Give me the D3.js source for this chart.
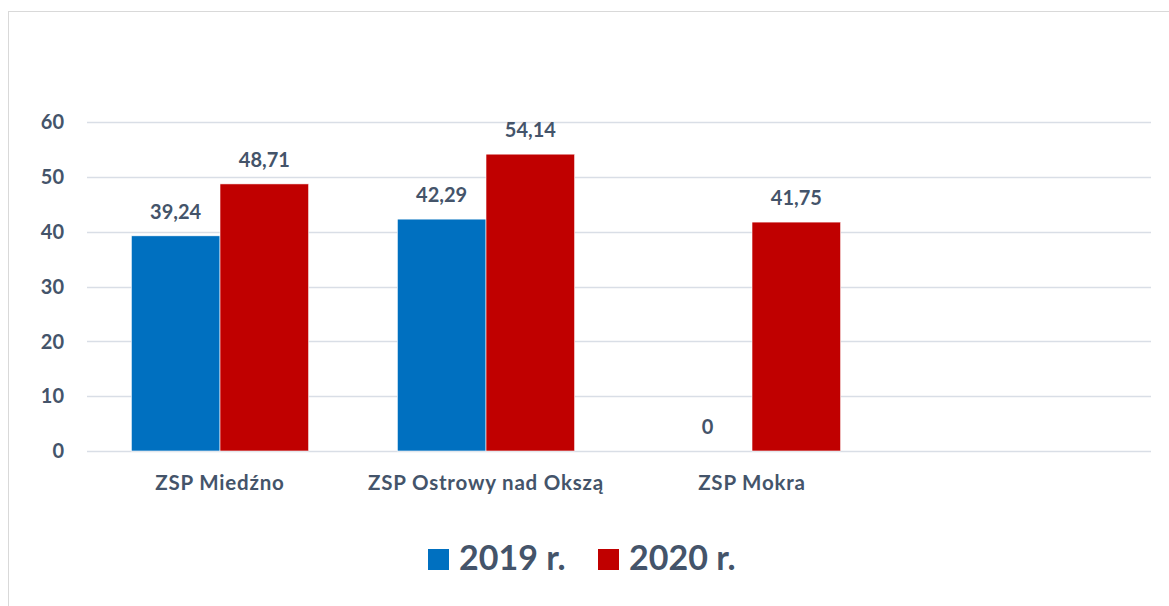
<!DOCTYPE html>
<html>
<head>
<meta charset="utf-8">
<script src="https://cdn.jsdelivr.net/npm/d3@7"></script>
<style>
    body { margin: 0; background: #fff; }
    svg text { font-family: Lato, "Open Sans", sans-serif; font-weight: bold; fill: #44546A; }
</style>
</head>
<body>
<svg class="chart" width="1169" height="606"></svg>
<script>
var categories = ["ZSP Miedźno", "ZSP Ostrowy nad Okszą", "ZSP Mokra", ""];
var seriesNames = ["2019 r.", "2020 r."];
var values2019 = [39.24, 42.29, 0, null];
var values2020 = [48.71, 54.14, 41.75, null];
var yTicks = [0, 10, 20, 30, 40, 50, 60];
var colors = ["#0070C0", "#C00000"];

(function () {
    var svg = d3.select(".chart");

    // outer chart border (right and bottom run off the picture)
    svg.append("rect")
        .attr("x", 8.5)
        .attr("y", 11.5)
        .attr("width", 1300)
        .attr("height", 800)
        .attr("fill", "none")
        .attr("stroke", "#D9D9D9");

    var x0 = d3.scaleBand()
        .domain(categories)
        .range([87, 1151]);

    var x1 = d3.scaleBand()
        .domain(seriesNames)
        .range([0, x0.bandwidth()])
        .paddingOuter(0.5);

    var y = d3.scaleLinear()
        .domain([0, 60])
        .range([451, 122]);

    // gridlines
    svg.append("g")
        .selectAll("line")
        .data(yTicks)
        .enter()
        .append("line")
        .attr("x1", 87)
        .attr("x2", 1151)
        .attr("y1", function (d) { return Math.round(y(d)) + 0.5; })
        .attr("y2", function (d) { return Math.round(y(d)) + 0.5; })
        .attr("stroke", "#D9DEE6")
        .attr("stroke-width", 1.5);

    // y axis labels
    svg.append("g")
        .selectAll("text")
        .data(yTicks)
        .enter()
        .append("text")
        .attr("x", 64)
        .attr("y", function (d) { return y(d); })
        .attr("dy", "0.36em")
        .attr("text-anchor", "end")
        .style("font-size", "20px")
        .text(function (d) { return d; });

    var rows = categories.map(function (c, i) {
        return { cat: c, vals: [values2019[i], values2020[i]] };
    });

    var groups = svg.append("g")
        .selectAll("g")
        .data(rows)
        .enter()
        .append("g")
        .attr("transform", function (d) { return "translate(" + x0(d.cat) + ",0)"; });

    var cells = groups.selectAll("g")
        .data(function (d) {
            return d.vals.map(function (v, j) { return { s: seriesNames[j], v: v, j: j }; })
                .filter(function (e) { return e.v !== null; });
        })
        .enter()
        .append("g");

    cells.append("rect")
        .attr("x", function (d) { return x1(d.s); })
        .attr("y", function (d) { return y(d.v); })
        .attr("width", x1.bandwidth())
        .attr("height", function (d) { return y(0) - y(d.v); })
        .attr("fill", function (d) { return colors[d.j]; })
        .attr("stroke", "#fff")
        .attr("stroke-width", 0.6);

    cells.append("text")
        .attr("x", function (d) { return x1(d.s) + x1.bandwidth() / 2; })
        .attr("y", function (d) { return y(d.v) - 17; })
        .attr("text-anchor", "middle")
        .style("font-size", "20px")
        .text(function (d) { return d3.format(".2f")(d.v).replace(".", ",").replace(/^0,00$/, "0"); });

    // category labels
    svg.append("g")
        .selectAll("text")
        .data(categories)
        .enter()
        .append("text")
        .attr("x", function (d) { return x0(d) + x0.bandwidth() / 2; })
        .attr("y", 490)
        .attr("text-anchor", "middle")
        .style("font-size", "20.5px")
        .style("letter-spacing", "0.8px")
        .text(function (d) { return d; });

    // legend
    var legendX = [428, 598];
    var legend = svg.append("g")
        .selectAll("g")
        .data(seriesNames)
        .enter()
        .append("g")
        .attr("transform", function (d, i) { return "translate(" + legendX[i] + ",549)"; });

    legend.append("rect")
        .attr("width", 21)
        .attr("height", 21)
        .attr("fill", function (d, i) { return colors[i]; });

    legend.append("text")
        .attr("x", 31)
        .attr("y", 21)
        .style("font-size", "34px")
        .text(function (d) { return d; });
})();
</script>
</body>
</html>
